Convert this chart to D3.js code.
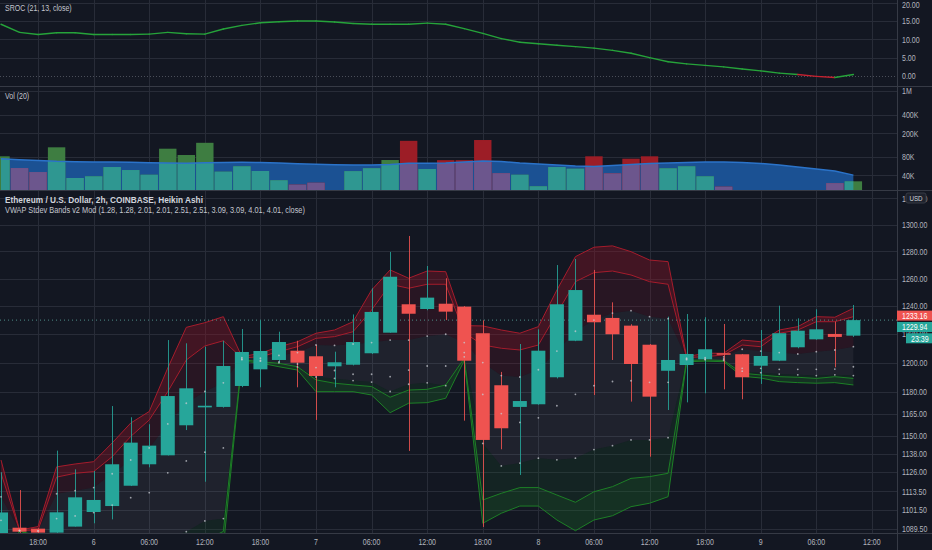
<!DOCTYPE html>
<html>
<head>
<meta charset="utf-8">
<script src="https://cdn.jsdelivr.net/npm/d3@7/dist/d3.min.js"></script>
<style>
  html, body { margin: 0; padding: 0; background: #131722; }
  svg { display: block; }
  text { font-family: "Liberation Sans", Arial, sans-serif; }
</style>
</head>
<body>
<svg id="chart"></svg>
<script>
// 2h Heikin Ashi bars, first bar on the 5th at 14:00 (hours counted from the 5th 00:00)
const firstHour = 14, stepHours = 2;

const haOpen  = [1082, 1090.3, 1089.7, 1087.2, 1091.0, 1100.3, 1104.1, 1117.2, 1131.2, 1137.1, 1157.1, 1169.2, 1169.5,
  1183.8, 1195.3, 1201.8, 1208.3, 1204.4, 1197.4, 1198.5, 1206.5, 1221.0, 1241.3, 1237.9, 1241.7,
  1239.6, 1220.6, 1184.3, 1169.5, 1171.3, 1189.8, 1215.3, 1233.8, 1231.5, 1226.0, 1212.5, 1194.3,
  1198.3, 1202.3, 1206.5, 1205.8, 1197.8, 1201.3, 1210.7, 1216.3, 1220.1, 1218.9];
const haHigh  = [1126, 1114.4, 1089.9, 1140.2, 1127.9, 1126.8, 1170.1, 1162.5, 1157.8, 1215.8, 1213.5, 1211.1, 1215.3,
  1223.6, 1229.8, 1221.7, 1215.3, 1212.3, 1207.6, 1234.0, 1252.9, 1279.6, 1291.5, 1269.2, 1260.2,
  1240.0, 1229.8, 1193.5, 1213.0, 1223.4, 1269.9, 1274.4, 1266.3, 1242.7, 1227.0, 1213.0, 1232.4,
  1234.3, 1232.0, 1227.2, 1206.0, 1222.9, 1240.3, 1231.2, 1237.7, 1228.8, 1240.8];
const haLow   = [1080, 1087.0, 1086.0, 1087.0, 1091.0, 1093.1, 1095.6, 1117.0, 1129.2, 1137.0, 1153.9, 1119.8, 1169.0,
  1183.0, 1182.9, 1200.0, 1182.9, 1160.7, 1182.9, 1198.0, 1206.0, 1221.0, 1140.0, 1237.0, 1230.0,
  1160.2, 1090.8, 1141.1, 1124.2, 1171.0, 1189.0, 1215.0, 1177.6, 1201.8, 1173.1, 1136.2, 1167.4,
  1172.6, 1178.8, 1181.5, 1174.7, 1185.2, 1201.0, 1210.0, 1216.0, 1196.7, 1218.0];
const haClose = [1100, 1087.8, 1087.2, 1100.1, 1109.7, 1108.0, 1131.2, 1145.5, 1143.5, 1176.9, 1182.2, 1170.3, 1197.6,
  1207.4, 1208.1, 1214.4, 1199.9, 1190.7, 1200.2, 1214.4, 1235.8, 1261.3, 1234.5, 1246.1, 1236.0,
  1201.3, 1147.3, 1155.1, 1173.5, 1208.3, 1241.3, 1251.6, 1228.4, 1219.9, 1199.0, 1176.5, 1201.8,
  1206.0, 1209.3, 1205.5, 1189.8, 1204.6, 1220.6, 1222.4, 1223.4, 1218.0, 1229.94];

// VWAP stdev bands: outer/inner lines and the three dotted levels
const upperOuter = [1134.0, 1088.8, 1091.0, 1129.5, 1131.4, 1132.9, 1145.3, 1158.6, 1166.4, 1196.2, 1224.8, 1228.1, 1232.4,
  1204.1, 1206.5, 1211.1, 1214.6, 1220.6, 1222.9, 1228.8, 1251.6, 1266.3, 1260.2, 1265.5, 1265.0,
  1226.0, 1225.8, 1222.9, 1220.6, 1225.3, 1251.6, 1276.1, 1283.1, 1284.1, 1279.8, 1273.6, 1272.4,
  1204.1, 1206.5, 1206.5, 1215.8, 1214.6, 1222.9, 1225.3, 1232.4, 1232.0, 1238.4];
const upperInner = [1125.3, 1088.6, 1088.8, 1122.8, 1125.3, 1126.4, 1136.2, 1149.6, 1160.7, 1179.9, 1201.8, 1211.6, 1215.3,
  1203.2, 1204.1, 1207.6, 1211.1, 1217.0, 1218.2, 1221.7, 1237.2, 1255.8, 1252.9, 1255.8, 1255.8,
  1221.0, 1212.3, 1210.0, 1208.8, 1212.3, 1234.8, 1257.7, 1264.3, 1265.5, 1262.6, 1257.7, 1255.8,
  1203.5, 1204.1, 1205.3, 1212.3, 1211.1, 1220.6, 1222.9, 1228.8, 1228.8, 1232.4];
const upperDots = [1110, 1088.6, 1088.5, 1112, 1114, 1116, 1125, 1134, 1142, 1158, 1172, 1180, 1186,
  1203.5, 1203, 1205, 1207, 1212.3, 1212, 1213, 1214, 1215.8, 1215.8, 1218.6, 1219.9,
  1214, 1200, 1191, 1190, 1195, 1208, 1222, 1230, 1235, 1236.7, 1232.4, 1231.0,
  1203, 1203.5, 1204, 1209.3, 1208, 1207, 1206.0, 1207.6, 1208.8, 1211.1];
const midDots = [1095, 1088.5, 1088, 1096.1, 1097.8, 1099.9, 1104.7, 1109.5, 1112.7, 1125.6, 1133.4, 1139.2, 1142.0,
  1202.5, 1201.5, 1200.5, 1199, 1196.5, 1194.5, 1191.9, 1191.9, 1190.2, 1194.8, 1197.6, 1197.6,
  1207, 1178, 1165, 1159, 1162.1, 1170.3, 1178.1, 1184.0, 1186.9, 1187.4, 1186.3, 1186.3,
  1202.5, 1202.5, 1202.5, 1196, 1196, 1195.3, 1195.3, 1195.3, 1195.5, 1197.1];
const lowerDots = [1080, 1088.4, 1086, 1080, 1082, 1084, 1085, 1085, 1086, 1084, 1087.8, 1094.6, 1096.1,
  1202, 1201, 1199.8, 1197, 1190, 1189, 1187.5, 1186.5, 1180, 1185, 1186, 1184,
  1204, 1145, 1130.1, 1132, 1135.2, 1134.1, 1135.2, 1140.9, 1143.5, 1147.3, 1147.3, 1148.8,
  1202, 1202, 1201.5, 1194, 1193, 1192, 1191.5, 1191, 1191.5, 1191];
const lowerInner = [1065, 1088.3, 1085, 1068, 1070, 1072, 1072, 1070, 1072, 1078, 1078, 1082, 1088,
  1202.0, 1200.6, 1199.5, 1197.1, 1188.0, 1185.7, 1184.5, 1183.4, 1176.1, 1181.0, 1181.5, 1184.5,
  1203, 1108.0, 1112.3, 1116.0, 1116.0, 1111.2, 1106.5, 1113.3, 1116.6, 1122.0, 1123.1, 1125.3,
  1201.5, 1201.8, 1201.5, 1192.6, 1191.4, 1190.2, 1189.8, 1189.0, 1190.2, 1189.0];
const lowerOuter = [1055, 1088.2, 1084, 1062, 1064, 1066, 1064, 1060, 1062, 1068, 1068, 1072, 1078,
  1201.0, 1199.7, 1197.1, 1194.8, 1179.9, 1179.9, 1179.9, 1177.6, 1165.6, 1172.0, 1172.4, 1175.4,
  1201.5, 1093.1, 1099.5, 1104.1, 1104.1, 1095.2, 1088.4, 1095.2, 1097.9, 1103.7, 1105.9, 1110.1,
  1200.5, 1201.0, 1200.6, 1190.5, 1189.3, 1186.8, 1186.1, 1185.7, 1186.1, 1184.5];

// volume (thousands) and its 20-bar average
const volume = [82.9, 52.9, 45.4, 117, 36.1, 38.5, 55.0, 49.0, 40.9, 110.9, 87.1, 139, 46.0,
  56.5, 47.2, 33.1, 28.0, 30.1, 20, 47, 52.5, 71.9, 150, 50.9, 71.5,
  71.5, 154.7, 43.5, 40.9, 26.3, 55.0, 51.5, 82.9, 43.2, 75.6, 82.9, 52.3,
  56.5, 38.5, 25.9, 20, 19, 18, 20, 21, 29.7, 31.8];
const volumeMA = [75.6, 72.7, 70.5, 68.4, 67.5, 66.6, 66.6, 65.8, 64.9, 64.2, 63.4, 64.9, 65.4,
  65.8, 65.4, 64.2, 62.4, 61.0, 60.1, 59.4, 59.4, 60.5, 63.4, 63.4, 64.2,
  66.6, 69.2, 67.9, 64.2, 61.7, 59.4, 57.1, 56.0, 58.2, 60.5, 62.9, 64.2,
  65.4, 66.6, 66.6, 65.4, 62.9, 59.4, 55.0, 50.9, 47.2, 40.3];

// SROC (21, 13, close)
const sroc = [14.1, 11.9, 11.3, 11.8, 11.8, 11.3, 11.3, 11.3, 11.4, 11.9, 11.5, 11.4, 12.8,
  13.8, 14.5, 14.8, 15.0, 15.0, 14.7, 14.3, 14.1, 14.1, 14.1, 14.4, 14.1,
  12.9, 11.6, 10.2, 9.2, 8.8, 8.4, 8.0, 7.6, 7.0, 6.2, 5.0, 3.9,
  3.3, 2.9, 2.5, 1.9, 1.4, 0.8, 0.4, -0.1, -0.4, 0.4];

// axis ticks
const timeTicks  = [18, 24, 30, 36, 42, 48, 54, 60, 66, 72, 78, 84, 90, 96, 102, 108];
const timeLabels = ["18:00", "6", "06:00", "12:00", "18:00", "7", "06:00", "12:00",
  "18:00", "8", "06:00", "12:00", "18:00", "9", "06:00", "12:00"];
const priceTicks = [1089.5, 1101.5, 1113.5, 1126, 1138, 1150, 1165, 1180, 1200, 1220, 1240, 1260, 1280, 1300, 1320];
const srocTicks  = [0, 5, 10, 15, 20];
const volTicks   = [40000, 80000, 200000, 400000, 1000000];
const volLabels  = ["40K", "80K", "200K", "400K", "1M"];

const lastPrice = 1229.94, realPrice = 1233.16, countdown = "23:39";

const W = 932, H = 550, axisX = 897.5;
const gridColor = "#282c38", textColor = "#b2b5be";
const upColor = "#26a69a", downColor = "#ef5350";
const narrow = 0.78; // the screenshot's text is horizontally squeezed

const hours = haOpen.map((d, i) => firstHour + i * stepHours);
const isUp = haOpen.map((o, i) => haClose[i] >= o);

const x = d3.scaleLinear().domain([14, 108]).range([1, 871.9]);
const ySroc = d3.scaleLinear().domain([-2.72, 20.71]).range([86, 0]);
const yVol = d3.scaleLog().domain([22800, 1179000]).range([190, 87]);
const yPx = d3.scaleLog().domain([1086.96, 1324.9]).range([533, 192]);

const svg = d3.select("#chart").attr("width", W).attr("height", H);
svg.append("rect").attr("width", W).attr("height", H).attr("fill", "#131722");

// text helper: squeezed horizontally around its anchor point
const label = (g, tx, ty, str, sx = narrow) => g.append("text")
  .attr("transform", `translate(${tx},${ty}) scale(${sx},1)`).text(str);

const defs = svg.append("defs");
const clip = (id, y0, y1) => defs.append("clipPath").attr("id", id)
  .append("rect").attr("x", 0).attr("y", y0).attr("width", axisX).attr("height", y1 - y0);
clip("clipSroc", 0, 86);
clip("clipVol", 87, 190);
clip("clipMain", 192, 533);

// grid
const grid = svg.append("g").attr("stroke", gridColor).attr("stroke-width", 1);
timeTicks.forEach(t => {
  grid.append("line").attr("x1", Math.round(x(t)) + 0.5).attr("x2", Math.round(x(t)) + 0.5)
    .attr("y1", 0).attr("y2", 533);
});
srocTicks.forEach(v => {
  grid.append("line").attr("x1", 0).attr("x2", axisX)
    .attr("y1", Math.round(ySroc(v)) + 0.5).attr("y2", Math.round(ySroc(v)) + 0.5)
    .attr("stroke-dasharray", v === 0 ? "1,2" : null).attr("stroke", v === 0 ? "#4a4e59" : gridColor);
});
volTicks.forEach(v => {
  grid.append("line").attr("x1", 0).attr("x2", axisX)
    .attr("y1", Math.round(yVol(v)) + 0.5).attr("y2", Math.round(yVol(v)) + 0.5);
});
priceTicks.forEach(v => {
  grid.append("line").attr("x1", 0).attr("x2", axisX)
    .attr("y1", Math.round(yPx(v)) + 0.5).attr("y2", Math.round(yPx(v)) + 0.5);
});

// pane separators and right axis border
const sep = svg.append("g").attr("stroke", "#363a45").attr("stroke-width", 1);
[86.5, 190.5, 533.5].forEach(y => sep.append("line").attr("x1", 0).attr("x2", W).attr("y1", y).attr("y2", y));
sep.append("line").attr("x1", axisX).attr("x2", axisX).attr("y1", 0).attr("y2", 550);

// ---- SROC pane
const sPane = svg.append("g").attr("clip-path", "url(#clipSroc)");
for (let i = 1; i < sroc.length; i++) {
  sPane.append("path")
    .attr("d", d3.line()([[x(hours[i - 1]), ySroc(sroc[i - 1])], [x(hours[i]), ySroc(sroc[i])]]))
    .attr("fill", "none").attr("stroke-width", 1.4).attr("stroke-linecap", "round")
    .attr("stroke", sroc[i] < 0 ? "#c62230" : "#26a33a");
}

// ---- Volume pane
const vPane = svg.append("g").attr("clip-path", "url(#clipVol)");
const maArea = d3.area().x((d, i) => x(hours[i])).y0(190).y1((d, i) => yVol(volumeMA[i] * 1000));
defs.append("clipPath").attr("id", "clipMA").append("path").attr("d", maArea(hours));
vPane.append("path").attr("d", maArea(hours)).attr("fill", "#1b5193");
const bw = 17.4;
vPane.selectAll("rect.va").data(hours).join("rect").attr("class", "va")
  .attr("x", d => x(d) - bw / 2).attr("width", bw)
  .attr("y", (d, i) => yVol(volume[i] * 1000)).attr("height", (d, i) => Math.max(0, 190 - yVol(volume[i] * 1000)))
  .attr("fill", (d, i) => isUp[i] ? "#3e7d41" : "#9c1d26");
vPane.append("g").attr("clip-path", "url(#clipMA)")
  .selectAll("rect").data(hours).join("rect")
  .attr("x", d => x(d) - bw / 2).attr("width", bw)
  .attr("y", (d, i) => yVol(volume[i] * 1000)).attr("height", (d, i) => Math.max(0, 190 - yVol(volume[i] * 1000)))
  .attr("fill", (d, i) => isUp[i] ? "#2f9791" : "#6c568d");
vPane.append("path")
  .attr("d", d3.line().x((d, i) => x(hours[i])).y((d, i) => yVol(volumeMA[i] * 1000))(hours))
  .attr("fill", "none").attr("stroke", "#2b73c9").attr("stroke-width", 1.5);

// ---- Main pane
const mPane = svg.append("g").attr("clip-path", "url(#clipMain)");
const fillBetween = (hi, lo, color) => mPane.append("path")
  .attr("d", d3.area().x((d, i) => x(hours[i])).y0((d, i) => yPx(lo[i])).y1((d, i) => yPx(hi[i]))(hours))
  .attr("fill", color);
fillBetween(upperDots, lowerDots, "rgba(255,255,255,0.05)");
fillBetween(upperInner, upperDots, "rgba(150,20,40,0.17)");
fillBetween(upperOuter, upperInner, "rgba(150,20,40,0.36)");
fillBetween(lowerDots, lowerInner, "rgba(30,120,40,0.14)");
fillBetween(lowerInner, lowerOuter, "rgba(30,120,40,0.28)");

const bandLine = (arr, color) => mPane.append("path")
  .attr("d", d3.line().x((d, i) => x(hours[i])).y((d, i) => yPx(arr[i]))(hours))
  .attr("fill", "none").attr("stroke", color).attr("stroke-width", 1);
bandLine(upperOuter, "#a51c2c");
bandLine(upperInner, "#a51c2c");
bandLine(lowerInner, "#1d7f26");
bandLine(lowerOuter, "#1d7f26");

// last price dotted line
mPane.append("line").attr("x1", 0).attr("x2", axisX)
  .attr("y1", yPx(lastPrice)).attr("y2", yPx(lastPrice))
  .attr("stroke", "#4f8f8a").attr("stroke-dasharray", "1,3");

// candles
const cw = 14;
const candles = mPane.selectAll("g.candle").data(hours).join("g").attr("class", "candle");
candles.append("line")
  .attr("x1", d => Math.round(x(d)) + 0.5).attr("x2", d => Math.round(x(d)) + 0.5)
  .attr("y1", (d, i) => yPx(haHigh[i])).attr("y2", (d, i) => yPx(haLow[i]))
  .attr("stroke", (d, i) => isUp[i] ? upColor : downColor).attr("stroke-width", 1).attr("opacity", 0.85);
candles.append("rect")
  .attr("x", d => x(d) - cw / 2).attr("width", cw)
  .attr("y", (d, i) => yPx(Math.max(haOpen[i], haClose[i])))
  .attr("height", (d, i) => Math.max(1.5, yPx(Math.min(haOpen[i], haClose[i])) - yPx(Math.max(haOpen[i], haClose[i]))))
  .attr("fill", (d, i) => isUp[i] ? upColor : downColor);

// dotted band levels
[upperDots, midDots, lowerDots].forEach(arr => {
  mPane.append("g").selectAll("circle").data(hours).join("circle")
    .attr("cx", d => x(d)).attr("cy", (d, i) => yPx(arr[i])).attr("r", 0.9)
    .attr("fill", "#c8cbd2").attr("opacity", 0.75);
});

// ---- axes labels
const axisText = svg.append("g").attr("fill", textColor).attr("font-size", 9);
srocTicks.forEach(v => label(axisText, 902, Math.max(4.5, ySroc(v)) + 3.2, v.toFixed(2)));
volTicks.forEach((v, i) => label(axisText, 902, yVol(v) + 3.2, volLabels[i]));
priceTicks.forEach(v => label(axisText, 902, yPx(v) + 3.2, v.toFixed(2)));
const timeText = svg.append("g").attr("fill", textColor).attr("font-size", 9).attr("text-anchor", "middle");
timeTicks.forEach((t, i) => label(timeText, x(t), 545, timeLabels[i]));

// price labels on the axis
const tag = (yc, h, x0, color, str) => {
  svg.append("rect").attr("x", x0).attr("y", yc - h / 2).attr("width", W - x0).attr("height", h).attr("fill", color);
  label(svg.append("g").attr("fill", "#ffffff").attr("font-size", 9), x0 + 5, yc + 3.2, str);
};
tag(yPx(realPrice), 10, 897, downColor, realPrice.toFixed(2));
tag(327, 10, 897, upColor, lastPrice.toFixed(2));
tag(338.3, 10, 906, upColor, countdown);

// currency box
svg.append("rect").attr("x", 906).attr("y", 193).attr("width", 20).attr("height", 10).attr("rx", 2)
  .attr("fill", "#1e222d").attr("stroke", "#363a45");
label(svg.append("g").attr("fill", "#d1d4dc").attr("font-size", 8).attr("text-anchor", "middle"), 916, 200.8, "USD");

// pane legends
const legend = svg.append("g").attr("fill", "#c3c6ce").attr("font-size", 9);
label(legend, 5, 11, "SROC (21, 13, close)");
label(legend, 5, 99, "Vol (20)");
label(legend, 5, 202.5, "Ethereum / U.S. Dollar, 2h, COINBASE, Heikin Ashi", 0.92)
  .attr("font-weight", "bold").attr("fill", "#d1d4dc");
label(legend, 5, 212.5, "VWAP Stdev Bands v2 Mod (1.28, 1.28, 2.01, 2.01, 2.51, 2.51, 3.09, 3.09, 4.01, 4.01, close)", 0.82);
</script>
</body>
</html>
